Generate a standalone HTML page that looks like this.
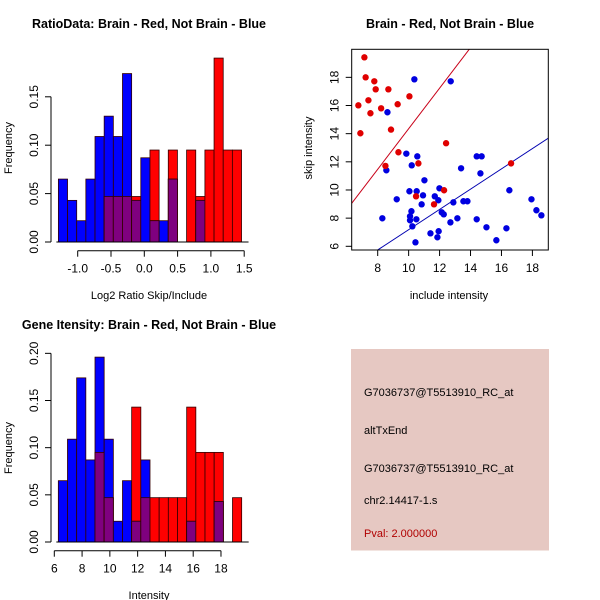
<!DOCTYPE html>
<html><head><meta charset="utf-8"><style>
body{margin:0;background:#fff}
svg{display:block;font-family:"Liberation Sans",sans-serif}
</style></head><body>
<svg id="s" width="600" height="600" viewBox="0 0 600 600">
<rect width="600" height="600" fill="#fff"/>
<rect x="351" y="349" width="198" height="201.5" fill="#e6c8c2"/>
<g font-size="11" fill="#000">
<text x="364" y="396">G7036737@T5513910_RC_at</text>
<text x="364" y="434">altTxEnd</text>
<text x="364" y="472">G7036737@T5513910_RC_at</text>
<text x="364" y="504">chr2.14417-1.s</text>
<text x="364" y="537" fill="#b00000">Pval: 2.000000</text>
</g>
</svg>
<script>
// ---- Ratio histogram data ----
const ratioBinStart = -1.29;
const ratioBinWidth = 0.1375;
const ratioBlue = [0.065,0.043,0.022,0.065,0.109,0.130,0.109,0.174,0.043,0.087,0.022,0.022,0.065,0,0,0.043,0,0,0,0];
const ratioRed  = [0,0,0,0,0,0.047,0.047,0.047,0.047,0,0.095,0,0.095,0,0.095,0.047,0.095,0.190,0.095,0.095];
const ratioXTicks = [-1.0,-0.5,0.0,0.5,1.0,1.5];
const ratioYTicks = [0,0.05,0.10,0.15];
// ---- Intensity histogram data ----
const intBinStart = 6.29;
const intBinWidth = 0.66;
const intBlue = [0.065,0.109,0.174,0.087,0.196,0.109,0.022,0.065,0.022,0.087,0,0,0,0,0.022,0,0,0.043,0,0];
const intRed  = [0,0,0,0,0.095,0.047,0,0,0.143,0.047,0.047,0.047,0.047,0.047,0.143,0.095,0.095,0.095,0,0.047];
const intXTicks = [6,8,10,12,14,16,18];
const intYTicks = [0,0.05,0.10,0.15,0.20];
// ---- Scatter data ----
const redX = [7.14,7.22,7.78,7.87,8.69,7.40,7.53,6.75,8.22,6.88,8.86,9.29,10.05,9.34,8.50,12.42,10.63,10.48,12.29,11.64,16.62];
const redY = [19.42,18.0,17.72,17.15,17.15,16.37,15.45,16.01,15.80,14.03,14.29,16.09,16.65,12.68,11.71,13.32,11.89,9.55,9.98,8.98,11.89];
const blueX = [10.37,12.72,8.63,8.56,9.85,10.56,10.20,11.02,13.39,14.40,14.72,14.64,10.05,10.52,10.93,11.99,9.23,11.69,10.84,10.18,10.09,10.09,10.50,10.24,8.30,11.41,10.44,11.94,11.86,12.14,12.27,12.70,12.89,13.15,13.54,13.80,14.40,15.03,15.67,16.32,16.51,17.94,18.26,18.58,11.92];
const blueY = [17.86,17.72,15.52,11.40,12.58,12.39,11.75,10.69,11.54,12.39,12.39,11.18,9.91,9.91,9.62,10.12,9.34,9.55,8.98,8.49,8.13,7.85,7.92,7.42,7.99,6.92,6.28,7.07,6.64,8.41,8.27,7.70,9.12,7.99,9.20,9.20,7.92,7.35,6.43,7.28,9.98,9.34,8.56,8.20,9.27];
const redSlope = 1.44, redIntercept = -0.05;
const blueSlope = 0.72, blueIntercept = -0.02;
const scXTicks = [8,10,12,14,16,18];
const scYTicks = [6,8,10,12,14,16,18];

const NS="http://www.w3.org/2000/svg";
const svg=document.getElementById('s');
function mk(tag,attrs,parent){const e=document.createElementNS(NS,tag);for(const k in attrs)e.setAttribute(k,attrs[k]);(parent||svg).appendChild(e);return e;}
function txt(x,y,s,attrs,parent){const e=mk('text',Object.assign({x:x,y:y},attrs),parent);e.textContent=s;return e;}

function hist(o){
  const g=mk('g',{});
  
  
  const sx=v=>o.x0px+(v-o.x0)*o.kx, sy=v=>o.y0px-v*o.ky;
  for(let i=0;i<o.blue.length;i++){
    const a=o.start+i*o.w, b=a+o.w, bl=o.blue[i], rd=o.red[i];
    const draw=(h,col,nm)=>{if(h<=0)return;const r=mk('rect',{x:sx(a),y:sy(h),width:sx(b)-sx(a),height:sy(0)-sy(h),fill:col,stroke:'#300',"stroke-width":0.8},g);
      
      };
    draw(rd,'#ff0000','red');
    draw(bl,'#0000ff','blue');
    draw(Math.min(rd,bl),'#7f007f','overlap');
  }
  const ax=mk('g',{stroke:'#000',"stroke-width":1,fill:'none'});
  
  
  const xt=o.xticks, yt=o.yticks;
  mk('line',{x1:sx(xt[0]),x2:sx(xt[xt.length-1]),y1:o.xAxisY,y2:o.xAxisY},ax);
  xt.forEach(t=>{mk('line',{x1:sx(t),x2:sx(t),y1:o.xAxisY,y2:o.xAxisY+6},ax);
    const l=txt(sx(t),o.xAxisY+22,o.fmtx(t),{"font-size":12,"text-anchor":"middle"},g);
    
    });
  mk('line',{x1:o.yAxisX,x2:o.yAxisX,y1:sy(yt[0]),y2:sy(yt[yt.length-1])},ax);
  yt.forEach(t=>{mk('line',{x1:o.yAxisX,x2:o.yAxisX-6,y1:sy(t),y2:sy(t)},ax);
    const l=txt(0,0,t.toFixed(2),{"font-size":12,"text-anchor":"middle",transform:`translate(${o.yAxisX-13},${sy(t)}) rotate(-90)`},g);
    
    });
  mk('line',{x1:sx(o.start)-2,x2:sx(o.start+o.w*o.blue.length)+7,y1:sy(0),y2:sy(0),stroke:'#000'},g);
}

hist({name:'ratio-histogram',start:ratioBinStart,w:ratioBinWidth,blue:ratioBlue,red:ratioRed,x0:-1,x0px:77.7,kx:66.6,y0px:242,ky:968,xticks:ratioXTicks,yticks:ratioYTicks,xAxisY:250.7,yAxisX:51,fmtx:t=>t.toFixed(1)});
hist({name:'intensity-histogram',start:intBinStart,w:intBinWidth,blue:intBlue,red:intRed,x0:6,x0px:54.3,kx:13.89,y0px:542,ky:943.3,xticks:intXTicks,yticks:intYTicks,xAxisY:550.7,yAxisX:51,fmtx:t=>String(t)});

const sc=mk('g',{});


const SX=v=>377.7+(v-8)*15.47, SY=v=>246.3-(v-6)*14.08;
const L=351.7,R=548.3,T=49.3,B=250;
const cp=mk('clipPath',{id:'scclip'},sc);mk('rect',{x:L,y:T,width:R-L,height:B-T},cp);
const lines=mk('g',{"clip-path":"url(#scclip)"},sc);
const xa=6.32,xb=19.03;
const rl=mk('line',{x1:SX(xa),y1:SY(redSlope*xa+redIntercept),x2:SX(xb),y2:SY(redSlope*xb+redIntercept),stroke:'#c80018',"stroke-width":1},lines);


const bl=mk('line',{x1:SX(xa),y1:SY(blueSlope*xa+blueIntercept),x2:SX(xb),y2:SY(blueSlope*xb+blueIntercept),stroke:'#0000b0',"stroke-width":1},lines);


blueX.forEach((x,i)=>{const c=mk('circle',{cx:SX(x),cy:SY(blueY[i]),r:3.2,fill:'#0000e0'},lines);
  
  });
redX.forEach((x,i)=>{const c=mk('circle',{cx:SX(x),cy:SY(redY[i]),r:3.2,fill:'#e00000'},lines);
  
  });
const box=mk('rect',{x:L,y:T,width:R-L,height:B-T,fill:'none',stroke:'#000'},sc);


scXTicks.forEach(t=>{mk('line',{x1:SX(t),x2:SX(t),y1:B,y2:B+6,stroke:'#000'},sc);
  const l=txt(SX(t),B+22,String(t),{"font-size":12,"text-anchor":"middle"},sc);
  
  });
scYTicks.forEach(t=>{mk('line',{x1:L,x2:L-6,y1:SY(t),y2:SY(t),stroke:'#000'},sc);
  const l=txt(0,0,String(t),{"font-size":12,"text-anchor":"middle",transform:`translate(${L-13},${SY(t)}) rotate(-90)`},sc);
  
  });

function label(x,y,s,name,attrs){const e=txt(x,y,s,Object.assign({"text-anchor":"middle"},attrs||{}));
  
  }
label(149,28,'RatioData: Brain - Red, Not Brain - Blue','ratio-title',{"font-size":12.5,"font-weight":"bold"});
label(450,28,'Brain - Red, Not Brain - Blue','scatter-title',{"font-size":12.5,"font-weight":"bold"});
label(149,329,'Gene Itensity: Brain - Red, Not Brain - Blue','intensity-title',{"font-size":12.5,"font-weight":"bold"});
label(149,299,'Log2 Ratio Skip/Include','ratio-x-title',{"font-size":11});
label(449,299,'include intensity','scatter-x-title',{"font-size":11});
label(149,599,'Intensity','intensity-x-title',{"font-size":11});
label(0,0,'Frequency','ratio-y-title',{"font-size":11,transform:'translate(12,148) rotate(-90)'});
label(0,0,'skip intensity','scatter-y-title',{"font-size":11,transform:'translate(312,148) rotate(-90)'});
label(0,0,'Frequency','intensity-y-title',{"font-size":11,transform:'translate(12,448) rotate(-90)'});
</script>
</body></html>
